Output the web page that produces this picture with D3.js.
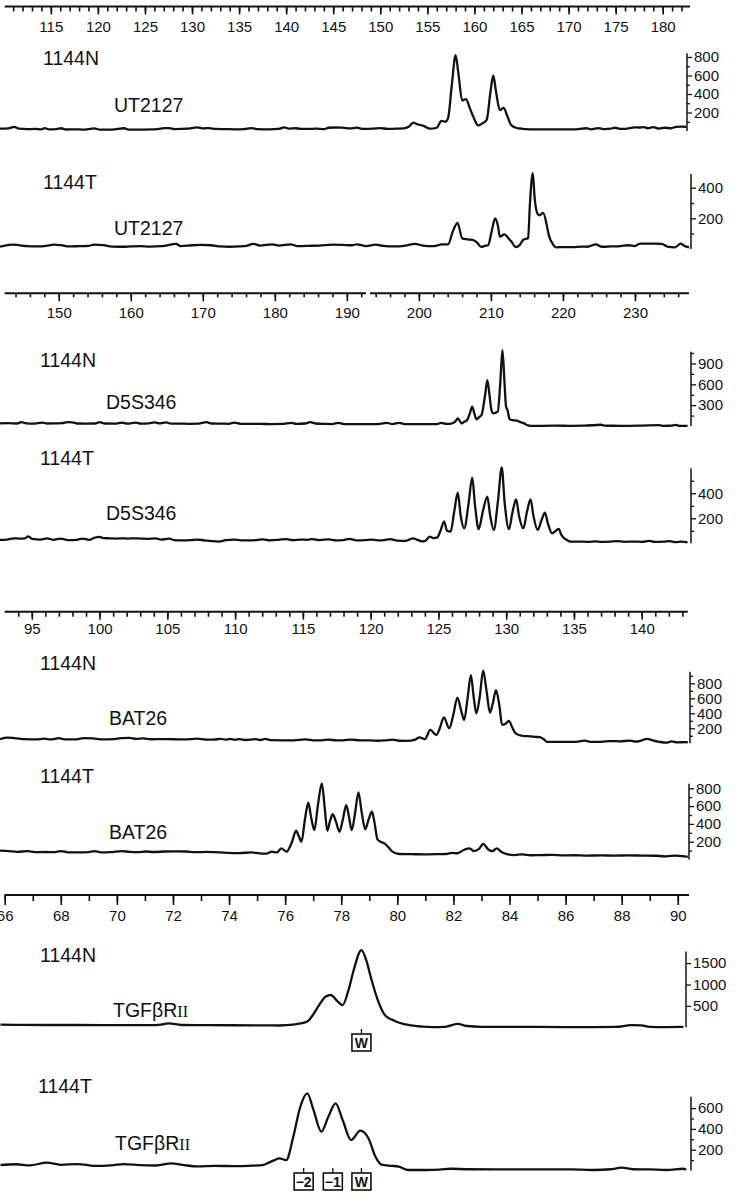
<!DOCTYPE html>
<html>
<head>
<meta charset="utf-8">
<script src="https://cdn.jsdelivr.net/npm/d3@7"></script>
<style>
  body { margin: 0; background: #fff; }
  svg text { font-family: "Liberation Sans", Arial, sans-serif; fill: #111; }
</style>
</head>
<body>
<script>
// tick labels of the size axes (bp)
const utTickLabels = [115, 120, 125, 130, 135, 140, 145, 150, 155, 160, 165, 170, 175, 180]
const d5TickLabels = [150, 160, 170, 180, 190, 200, 210, 220, 230]
const batTickLabels = [95, 100, 105, 110, 115, 120, 125, 130, 135, 140]
const tgfTickLabels = [66, 68, 70, 72, 74, 76, 78, 80, 82, 84, 86, 88, 90]

// traces: [size bp, fluorescence]
const ut2127N = [[109.6, 25], [110.5, 28], [111.1, 45], [111.6, 25], [112.5, 20], [113.3, 22], [114.0, 18], [114.35, 32], [114.8, 18], [115.6, 20], [116.1, 30], [116.6, 16], [117.5, 18], [118.4, 15], [119.6, 28], [120.2, 15], [121.5, 14], [122.8, 30], [123.3, 14], [124.5, 15], [125.8, 17], [127.1, 30], [127.6, 32], [128.2, 20], [129.5, 25], [130.55, 40], [131.2, 28], [131.8, 32], [132.5, 22], [133.5, 20], [134.6, 18], [135.5, 20], [136.3, 32], [137.0, 20], [138.2, 18], [139.2, 22], [139.8, 40], [140.3, 25], [141.0, 30], [141.5, 24], [142.3, 22], [143.2, 25], [144.0, 20], [144.5, 35], [145.2, 38], [146.0, 36], [146.8, 28], [147.5, 36], [148.2, 22], [149.2, 25], [150.0, 32], [150.8, 22], [151.6, 25], [152.5, 28], [153.0, 45], [153.5, 90], [154.0, 70], [154.6, 55], [155.3, 25], [156.0, 35], [156.5, 110], [156.9, 100], [157.2, 140], [157.6, 500], [158.0, 820], [158.3, 620], [158.7, 330], [159.1, 345], [159.5, 250], [159.9, 150], [160.4, 60], [160.8, 80], [161.3, 120], [161.7, 420], [162.0, 600], [162.3, 420], [162.7, 225], [163.1, 250], [163.5, 160], [163.9, 65], [164.4, 35], [165.0, 25], [165.4, 20], [166.5, 18], [167.5, 18], [168.5, 17], [169.5, 18], [170.5, 17], [171.9, 30], [172.4, 18], [173.2, 32], [173.8, 20], [174.5, 25], [174.9, 35], [175.6, 22], [176.4, 28], [177.0, 40], [177.5, 38], [178.0, 42], [178.4, 30], [179.0, 42], [179.6, 25], [180.2, 35], [180.9, 30], [181.4, 45], [182.0, 48], [182.5, 45]]

const ut2127T = [[109.6, 15], [110.1, 22], [111.0, 28], [111.6, 24], [112.5, 18], [113.5, 16], [114.5, 20], [115.35, 28], [116.1, 24], [117.0, 16], [118.0, 18], [119.0, 20], [119.6, 28], [120.6, 24], [121.5, 15], [122.5, 14], [123.5, 16], [124.5, 18], [125.5, 15], [126.8, 18], [128.3, 33], [128.8, 18], [130.0, 24], [131.0, 26], [132.0, 24], [133.0, 16], [134.0, 14], [135.0, 16], [135.8, 20], [136.5, 33], [137.2, 22], [138.5, 30], [139.2, 22], [140.5, 30], [141.2, 18], [142.5, 20], [143.5, 22], [144.5, 26], [145.0, 28], [146.0, 26], [147.0, 24], [147.5, 30], [148.5, 18], [149.5, 28], [150.3, 20], [151.5, 16], [152.5, 20], [153.3, 30], [153.7, 33], [154.5, 22], [155.5, 18], [156.0, 22], [156.5, 30], [157.2, 30], [157.7, 113], [158.2, 170], [158.7, 69], [159.3, 62], [159.96, 55], [160.3, 40], [160.7, 13], [161.1, 20], [161.45, 24], [161.85, 120], [162.2, 200], [162.5, 150], [162.7, 80], [163.2, 95], [163.6, 70], [163.9, 50], [164.4, 12], [164.8, 25], [165.2, 60], [165.7, 70], [165.9, 300], [166.2, 495], [166.4, 330], [166.7, 230], [166.9, 220], [167.3, 235], [167.7, 150], [167.9, 90], [168.3, 35], [168.7, 10], [169.5, 12], [170.5, 12], [171.4, 15], [172.0, 14], [172.9, 30], [173.5, 14], [174.5, 16], [175.5, 18], [176.4, 24], [177.0, 18], [177.6, 35], [178.2, 34], [179.0, 35], [179.9, 33], [180.5, 15], [181.3, 10], [181.9, 34], [182.3, 20], [182.8, 10]]

const d5s346N = [[141.85, 38], [143.0, 40], [144.2, 36], [144.8, 55], [145.5, 38], [146.5, 34], [147.7, 50], [148.4, 36], [149.5, 38], [150.5, 40], [151.2, 55], [151.9, 52], [152.6, 36], [153.8, 34], [155.0, 36], [155.7, 55], [156.4, 36], [157.8, 34], [158.8, 50], [159.5, 34], [160.7, 50], [161.4, 34], [162.5, 38], [163.3, 52], [164.0, 38], [164.9, 52], [165.6, 34], [166.8, 34], [168.0, 32], [169.4, 34], [170.5, 55], [171.2, 36], [172.5, 34], [173.6, 32], [174.4, 48], [175.2, 32], [176.5, 30], [178.0, 30], [179.5, 28], [181.0, 30], [182.3, 46], [183.0, 30], [184.2, 36], [184.9, 55], [185.7, 36], [187.0, 30], [188.0, 28], [188.8, 46], [189.6, 28], [191.0, 26], [192.5, 28], [194.0, 26], [195.6, 44], [196.3, 28], [197.3, 46], [198.0, 28], [199.5, 26], [201.0, 28], [202.5, 28], [203.1, 44], [203.8, 30], [204.3, 32], [204.8, 48], [205.1, 70], [205.4, 110], [205.7, 70], [205.95, 38], [206.3, 60], [206.7, 86], [207.1, 190], [207.4, 280], [207.7, 180], [208.0, 96], [208.4, 130], [208.7, 158], [209.2, 450], [209.5, 660], [209.8, 450], [210.05, 240], [210.3, 182], [210.95, 206], [211.3, 620], [211.6, 1090], [211.9, 600], [212.1, 280], [212.3, 230], [212.6, 96], [213.1, 82], [213.6, 77], [214.1, 55], [214.6, 38], [215.0, 15], [215.5, 2], [217.0, 3], [219.0, 4], [221.0, 3], [223.0, 4], [225.3, 18], [225.8, 4], [228.0, 3], [230.5, 4], [233.3, 14], [233.8, 3], [235.0, 4], [235.6, 16], [236.2, 3], [237.3, 3]]

const d5s346T = [[141.85, 28], [142.8, 30], [143.8, 40], [144.5, 38], [145.3, 40], [145.8, 55], [146.3, 35], [147.5, 30], [148.4, 40], [149.2, 28], [150.3, 38], [151.3, 26], [152.5, 28], [153.3, 38], [154.2, 28], [155.0, 45], [155.6, 52], [156.2, 42], [157.0, 40], [158.0, 38], [158.8, 40], [159.6, 38], [160.5, 40], [161.4, 38], [162.3, 36], [163.4, 40], [164.2, 30], [165.3, 38], [166.0, 26], [167.2, 24], [168.3, 26], [169.2, 30], [170.2, 24], [171.2, 18], [172.2, 14], [173.2, 26], [174.4, 30], [175.3, 24], [176.5, 24], [177.5, 26], [178.4, 32], [179.3, 24], [180.5, 28], [181.6, 34], [182.5, 26], [183.6, 30], [184.5, 28], [185.2, 34], [186.2, 26], [187.5, 32], [188.5, 24], [189.5, 26], [190.4, 36], [191.3, 24], [192.5, 26], [193.4, 30], [194.3, 24], [195.2, 26], [196.0, 34], [197.0, 22], [198.2, 20], [199.2, 40], [199.8, 28], [200.4, 16], [200.9, 20], [201.5, 53], [202.0, 42], [202.5, 45], [203.0, 100], [203.5, 175], [203.9, 100], [204.4, 93], [204.9, 250], [205.4, 405], [205.8, 220], [206.3, 120], [206.9, 320], [207.4, 525], [207.8, 300], [208.3, 113], [208.9, 260], [209.5, 373], [209.9, 220], [210.4, 107], [211.0, 350], [211.5, 608], [211.9, 330], [212.5, 113], [213.0, 250], [213.5, 352], [213.9, 220], [214.5, 120], [215.0, 250], [215.5, 352], [215.9, 220], [216.5, 107], [217.0, 180], [217.5, 245], [217.9, 160], [218.5, 80], [219.0, 100], [219.4, 115], [219.8, 65], [220.2, 40], [220.6, 25], [221.0, 13], [222.0, 14], [223.5, 12], [224.5, 16], [225.3, 12], [226.5, 14], [227.5, 18], [228.5, 12], [229.8, 14], [231.0, 12], [232.0, 20], [232.7, 12], [234.0, 14], [234.8, 18], [235.6, 10], [236.5, 14], [237.3, 8]]

const bat26N = [[92.65, 55], [93.2, 75], [93.7, 70], [94.5, 55], [95.3, 52], [95.9, 62], [96.4, 52], [97.0, 68], [97.5, 52], [98.2, 52], [98.8, 68], [99.5, 66], [100.2, 52], [101.0, 55], [101.6, 70], [102.2, 72], [102.7, 58], [103.2, 66], [103.8, 54], [104.6, 55], [105.5, 54], [106.3, 52], [107.2, 62], [107.8, 50], [108.4, 48], [108.9, 60], [109.3, 48], [109.6, 58], [110.0, 46], [110.3, 56], [110.8, 44], [111.5, 56], [111.9, 44], [112.2, 58], [112.7, 42], [113.5, 40], [114.3, 40], [115.2, 52], [115.8, 40], [116.4, 40], [116.9, 50], [117.5, 38], [118.0, 40], [118.6, 50], [119.2, 38], [120.0, 40], [120.6, 34], [121.1, 40], [121.6, 48], [122.1, 34], [122.7, 32], [123.3, 50], [123.6, 80], [124.0, 55], [124.4, 178], [124.85, 110], [125.1, 200], [125.4, 345], [125.8, 200], [126.1, 380], [126.4, 610], [126.7, 420], [126.9, 310], [127.15, 600], [127.4, 910], [127.6, 620], [127.8, 400], [128.05, 620], [128.3, 970], [128.55, 700], [128.8, 410], [129.0, 520], [129.25, 710], [129.5, 500], [129.7, 245], [129.95, 260], [130.2, 300], [130.45, 210], [130.7, 133], [131.2, 100], [131.8, 93], [132.2, 85], [132.5, 81], [132.8, 50], [133.0, 20], [134.0, 18], [135.0, 18], [135.8, 35], [136.3, 18], [137.0, 20], [137.7, 30], [138.4, 26], [139.1, 35], [139.6, 22], [140.0, 40], [140.4, 60], [140.8, 40], [141.3, 20], [141.8, 8], [142.2, 25], [142.6, 12], [143.2, 16], [143.4, 14]]

const bat26T = [[92.65, 99], [93.3, 95], [93.9, 85], [94.7, 95], [95.3, 82], [96.0, 84], [96.6, 82], [97.15, 95], [97.7, 80], [98.5, 80], [99.2, 84], [99.6, 95], [100.1, 80], [100.8, 82], [101.65, 95], [102.2, 85], [102.8, 82], [103.4, 90], [104.0, 84], [104.8, 90], [105.6, 92], [106.4, 90], [107.0, 82], [107.9, 86], [108.5, 82], [109.4, 75], [110.3, 72], [111.2, 80], [111.8, 68], [112.3, 66], [112.7, 88], [113.1, 80], [113.4, 125], [113.8, 88], [114.2, 200], [114.5, 323], [114.7, 260], [114.9, 200], [115.15, 450], [115.4, 638], [115.6, 480], [115.85, 330], [116.1, 600], [116.4, 855], [116.6, 600], [116.8, 323], [117.0, 430], [117.2, 510], [117.45, 420], [117.7, 312], [117.95, 450], [118.2, 612], [118.4, 480], [118.6, 330], [118.85, 520], [119.1, 755], [119.35, 520], [119.6, 340], [119.85, 450], [120.1, 537], [120.3, 400], [120.5, 227], [120.8, 195], [121.0, 182], [121.3, 140], [121.6, 88], [122.1, 62], [123.0, 60], [124.0, 58], [125.0, 60], [125.6, 62], [126.0, 75], [126.4, 70], [126.9, 110], [127.3, 126], [127.6, 95], [128.0, 120], [128.3, 174], [128.7, 110], [129.0, 95], [129.3, 126], [129.6, 90], [130.0, 62], [130.6, 50], [131.2, 58], [131.8, 48], [132.6, 50], [133.4, 52], [134.2, 46], [135.0, 48], [136.0, 44], [137.0, 46], [138.0, 44], [139.0, 46], [140.0, 44], [141.0, 42], [141.8, 36], [142.5, 44], [143.2, 34], [143.4, 30]]

const tgfN = [[65.85, 62], [66.5, 56], [67.5, 54], [68.5, 54], [69.5, 52], [70.5, 52], [71.4, 52], [71.86, 90], [72.3, 54], [73.0, 50], [74.0, 48], [75.0, 46], [75.8, 42], [76.29, 60], [76.54, 90], [76.79, 135], [77.0, 300], [77.21, 520], [77.45, 720], [77.63, 755], [77.85, 620], [78.05, 520], [78.25, 850], [78.45, 1350], [78.72, 1805], [78.9, 1550], [79.05, 1180], [79.3, 640], [79.55, 290], [79.89, 155], [80.39, 54], [80.89, 16], [81.23, 5], [81.7, 10], [82.14, 78], [82.5, 30], [83.0, 10], [84.0, 8], [85.0, 8], [86.0, 6], [87.0, 6], [87.8, 10], [88.34, 50], [88.7, 45], [89.0, 10], [89.6, 6], [90.2, 8]]

const tgfT = [[65.85, 53], [66.4, 60], [66.9, 50], [67.5, 75], [68.0, 55], [68.6, 62], [69.2, 45], [69.8, 50], [70.27, 62], [70.8, 52], [71.4, 48], [71.94, 69], [72.4, 52], [72.86, 40], [73.5, 45], [74.2, 42], [74.7, 45], [75.2, 52], [75.45, 80], [75.62, 100], [75.79, 117], [76.04, 100], [76.29, 325], [76.54, 613], [76.79, 742], [77.01, 582], [77.29, 373], [77.54, 517], [77.8, 646], [78.05, 485], [78.35, 293], [78.68, 383], [78.97, 310], [79.22, 133], [79.47, 53], [79.8, 45], [80.05, 37], [80.39, 5], [81.0, 5], [81.5, 8], [81.9, 17], [82.5, 12], [83.5, 10], [84.5, 10], [85.5, 11], [86.2, 11], [87.0, 5], [87.6, 12], [88.0, 27], [88.4, 12], [89.0, 10], [89.6, 5], [90.2, 17], [90.3, 8]]

// allele boxes under the TGFbRII traces
const boxLabelsN = ["W"]
const boxSizesN = [78.72]
const boxLabelsT = ["−2", "−1", "W"]
const boxSizesT = [76.66, 77.7, 78.72]

const W = 736, H = 1200

let svg = d3.select("body").append("svg")
  .attr("width", W)
  .attr("height", H)

// x scales, one per marker
let xUT = d3.scaleLinear().domain([110.1, 182.9]).range([4.7, 690])
let xD5 = d3.scaleLinear().domain([142.5, 237.5]).range([4.7, 689])
let xBAT = d3.scaleLinear().domain([93.0, 143.4]).range([4.7, 687.8])
let xTGF = d3.scaleLinear().domain([66.0, 90.4]).range([4.7, 689])

// horizontal size axis
function sizeAxis(x, y, minor, labels, opt) {
  let g = svg.append("g").attr("transform", "translate(0," + y + ")")
  g.append("g")
    .call(d3.axisBottom(x).tickValues(minor).tickSize(opt.minorLen).tickFormat("").tickSizeOuter(0))
  g.append("g")
    .call(d3.axisBottom(x).tickValues(labels).tickSize(opt.majorLen).tickPadding(opt.pad).tickSizeOuter(0))
  g.selectAll(".domain").remove()
  g.selectAll(".tick line").attr("stroke", "#111").attr("stroke-width", 1.6)
  g.selectAll(".tick text").attr("font-size", 15).attr("font-family", "Liberation Sans, Arial, sans-serif").attr("fill", "#111")
  let segs = opt.segments || [x.range()]
  segs.forEach(s => {
    g.append("line").attr("x1", s[0]).attr("x2", s[1])
      .attr("stroke", "#111").attr("stroke-width", 2)
  })
}

sizeAxis(xUT, 6.5, d3.range(111, 183), utTickLabels, {minorLen: 5, majorLen: 8, pad: 7})
sizeAxis(xD5, 293.3, d3.range(144, 238, 2), d5TickLabels, {minorLen: 4, majorLen: 8, pad: 6, segments: [[4.7, 366], [370, 689]]})
sizeAxis(xBAT, 611.7, d3.range(94, 144), batTickLabels, {minorLen: 5, majorLen: 8, pad: 4})
sizeAxis(xTGF, 895, d3.range(66, 91), tgfTickLabels, {minorLen: 6, majorLen: 10, pad: 5})

// one electropherogram panel
const panels = [
  {sample: "1144N", marker: "UT2127", data: ut2127N, x: xUT, y0: 131, k: 0.0925, ax: 687, top: 840,
   major: [200, 400, 600, 800], minor: [100, 300, 500, 700], sxy: [43, 65], mxy: [114, 112]},
  {sample: "1144T", marker: "UT2127", data: ut2127T, x: xUT, y0: 248.9, k: 0.153, ax: 691, top: 490,
   major: [200, 400], minor: [100, 300], sxy: [43, 189], mxy: [114, 235]},
  {sample: "1144N", marker: "D5S346", data: d5s346N, x: xD5, y0: 426, k: 0.0695, ax: 691, top: 1070,
   major: [300, 600, 900], minor: [150, 450, 750, 1050], sxy: [40, 367], mxy: [106, 409]},
  {sample: "1144T", marker: "D5S346", data: d5s346T, x: xD5, y0: 543.3, k: 0.125, ax: 691, top: 600,
   major: [200, 400], minor: [100, 300, 500], sxy: [40, 465], mxy: [106, 520]},
  {sample: "1144N", marker: "BAT26", data: bat26N, x: xBAT, y0: 743.3, k: 0.075, ax: 690, top: 955,
   major: [200, 400, 600, 800], minor: [100, 300, 500, 700, 900], sxy: [40, 670], mxy: [109, 725]},
  {sample: "1144T", marker: "BAT26", data: bat26T, x: xBAT, y0: 859.5, k: 0.089, ax: 689, top: 850,
   major: [200, 400, 600, 800], minor: [100, 300, 500, 700], sxy: [40, 783], mxy: [109, 839]},
  {sample: "1144N", marker: "TGF", data: tgfN, x: xTGF, y0: 1027.3, k: 0.0428, ax: 686, top: 1770,
   major: [500, 1000, 1500], minor: [], sxy: [40, 962], mxy: [113, 1017]},
  {sample: "1144T", marker: "TGF", data: tgfT, x: xTGF, y0: 1170.5, k: 0.104, ax: 691, top: 710,
   major: [200, 400, 600], minor: [100, 300, 500], sxy: [38, 1093], mxy: [115, 1150]}
]

panels.forEach(p => {
  let y = d3.scaleLinear().domain([0, 1000]).range([p.y0, p.y0 - 1000 * p.k])

  let line = d3.line()
    .x(d => p.x(d[0]))
    .y(d => y(d[1]))
    .curve(d3.curveMonotoneX)

  svg.append("path")
    .datum(p.data.filter(d => p.x(d[0]) <= p.ax))
    .attr("d", line)
    .attr("fill", "none")
    .attr("stroke", "#111")
    .attr("stroke-width", 2.3)
    .attr("stroke-linejoin", "round")

  // right intensity axis
  let g = svg.append("g").attr("transform", "translate(" + p.ax + ",0)")
  g.append("line")
    .attr("y1", y(0)).attr("y2", y(p.top))
    .attr("stroke", "#111").attr("stroke-width", 1.5)
  g.append("g").call(d3.axisRight(y).tickValues(p.minor).tickSize(3).tickFormat(""))
  g.append("g").call(d3.axisRight(y).tickValues(p.major).tickSize(5).tickPadding(2).tickFormat(d3.format("d")))
  g.selectAll(".domain").remove()
  g.selectAll(".tick line").attr("stroke", "#111").attr("stroke-width", 1.3)
  g.selectAll(".tick text").attr("font-size", 15).attr("font-family", "Liberation Sans, Arial, sans-serif").attr("fill", "#111")

  svg.append("text").attr("x", p.sxy[0]).attr("y", p.sxy[1]).attr("font-size", 19.5).text(p.sample)
  let t = svg.append("text").attr("x", p.mxy[0]).attr("y", p.mxy[1]).attr("font-size", 19.5)
  if (p.marker == "TGF") {
    t.append("tspan").text("TGFβR")
    t.append("tspan").attr("font-family", "Liberation Serif, serif").attr("font-size", 16).text("II")
  } else {
    t.text(p.marker)
  }
})

// allele boxes
function boxes(labels, sizes, top) {
  let g = svg.append("g")
  let b = g.selectAll("g").data(labels).join("g")
    .attr("transform", (d, i) => "translate(" + xTGF(sizes[i]) + "," + top + ")")
  b.append("line").attr("y1", -5).attr("y2", 0).attr("stroke", "#111").attr("stroke-width", 1.3)
  b.append("rect").attr("x", -9.5).attr("y", 0).attr("width", 19).attr("height", 17)
    .attr("fill", "#fff").attr("stroke", "#111").attr("stroke-width", 1.6)
  b.append("text").attr("y", 13.5).attr("text-anchor", "middle").attr("font-size", 14)
    .attr("font-weight", "bold").text(d => d)
}
boxes(boxLabelsN, boxSizesN, 1034)
boxes(boxLabelsT, boxSizesT, 1173)
</script>
</body>
</html>
